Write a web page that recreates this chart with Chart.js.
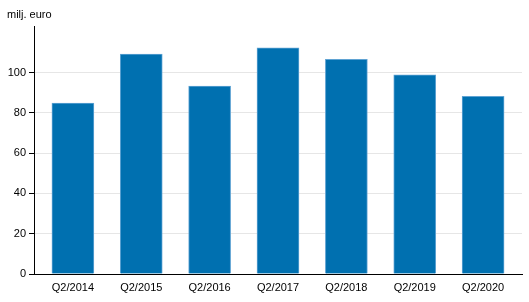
<!DOCTYPE html>
<html>
<head>
<meta charset="utf-8">
<script src="https://cdn.jsdelivr.net/npm/chart.js@4/dist/chart.umd.min.js"></script>
<style>
html,body{margin:0;padding:0;background:#fff;}
#wrap{width:529px;height:302px;}
</style>
</head>
<body>
<div id="wrap"><canvas id="c" width="529" height="302"></canvas></div>
<script>
const categories = ["Q2/2014","Q2/2015","Q2/2016","Q2/2017","Q2/2018","Q2/2019","Q2/2020"];
const values = [84.9, 109.2, 93.3, 112.3, 106.5, 98.8, 88.2];
const yTicks = [0, 20, 40, 60, 80, 100];
const unitLabel = "milj. euro";

const FONT = "'Liberation Sans', Arial, Helvetica, sans-serif";
Chart.defaults.font.family = FONT;
Chart.defaults.font.size = 11;
Chart.defaults.color = "#000";

new Chart(document.getElementById('c'), {
  type: 'bar',
  data: {
    datasets: [{
      data: values.map((v, i) => ({x: i, y: v})),
      backgroundColor: '#0070b0',
      borderColor: '#5fa3d3',
      borderWidth: 1,
      barThickness: 42
    }]
  },
  options: {
    responsive: false,
    animation: false,
    layout: {padding: {left: 7, right: 7, top: 0, bottom: 0}},
    plugins: {
      legend: {display: false},
      tooltip: {enabled: false},
      title: {
        display: true,
        text: unitLabel,
        align: 'start',
        font: {size: 11, weight: 'normal', family: FONT},
        color: '#000',
        padding: {top: 8, bottom: 5}
      }
    },
    scales: {
      x: {
        type: 'linear',
        offset: false,
        min: -0.569,
        max: categories.length - 1 + 0.569,
        afterBuildTicks: (s) => { s.ticks = categories.map((c, i) => ({value: i})); },
        afterFit: (s) => { s.height = 28; },
        ticks: {
          autoSkip: false,
          maxRotation: 0,
          padding: 7,
          callback: (v) => categories[v],
          font: {size: 11, family: FONT},
          color: '#000'
        },
        grid: {display: false, drawTicks: false, offset: false},
        border: {display: true, color: '#000', width: 1}
      },
      y: {
        min: 0,
        max: 123,
        afterBuildTicks: (s) => { s.ticks = yTicks.map(v => ({value: v})); },
        afterFit: (s) => { s.width = 27; },
        ticks: {
          padding: 3,
          font: {size: 11, family: FONT},
          color: '#000'
        },
        grid: {
          color: '#e6e6e6',
          lineWidth: 1,
          tickColor: '#000',
          tickLength: 5,
          drawTicks: true
        },
        border: {display: true, color: '#000', width: 1}
      }
    }
  }
});
</script>
</body>
</html>
